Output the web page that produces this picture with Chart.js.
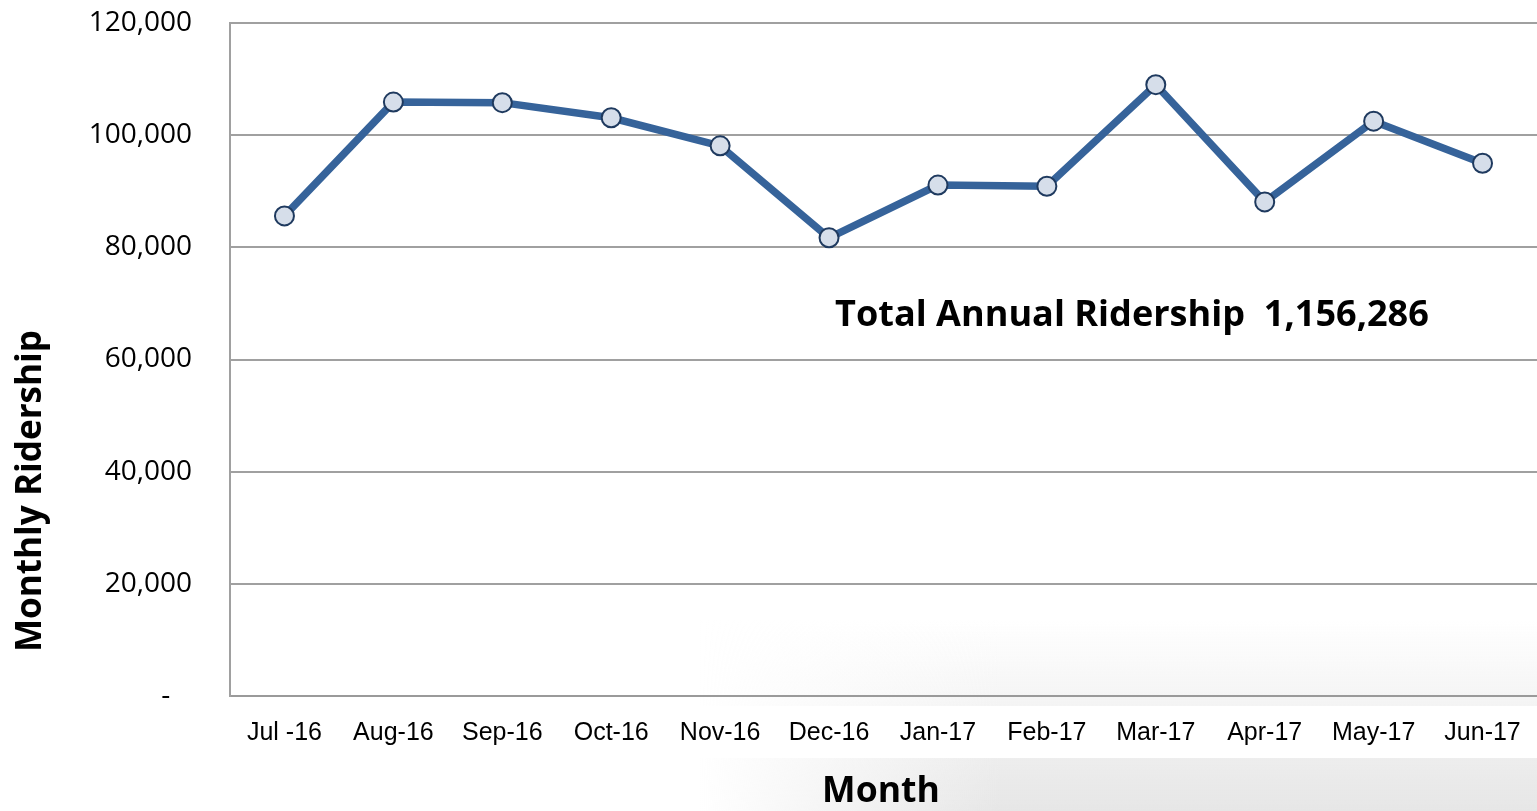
<!DOCTYPE html>
<html>
<head>
<meta charset="utf-8">
<script src="https://cdn.jsdelivr.net/npm/chart.js@4/dist/chart.umd.min.js"></script>
<style>
html,body{margin:0;padding:0;background:#fff;}
#wrap{width:1537px;height:811px;position:relative;}
</style>
</head>
<body>
<div id="wrap"><canvas id="c" width="1537" height="811"></canvas></div>
<script>
const months = ['Jul -16','Aug-16','Sep-16','Oct-16','Nov-16','Dec-16','Jan-17','Feb-17','Mar-17','Apr-17','May-17','Jun-17'];
const ridership = [85600, 105900, 105800, 103100, 98100, 81700, 91100, 90900, 109000, 88100, 102500, 95000];
const yTicks = [0, 20000, 40000, 60000, 80000, 100000, 120000];
const totalLabel = 'Total Annual Ridership  1,156,286';
const xTitle = 'Month';
const yTitle = 'Monthly Ridership';

const bgPlugin = {
  id: 'bg',
  beforeDraw(chart) {
    const ctx = chart.ctx;
    ctx.save();
    const g = ctx.createLinearGradient(0, 620, 0, 811);
    g.addColorStop(0, 'rgba(200,200,200,0)');
    g.addColorStop(1, 'rgba(200,200,200,0.45)');
    ctx.fillStyle = g;
    ctx.fillRect(700, 620, 837, 191);
    const h = ctx.createLinearGradient(700, 0, 1000, 0);
    h.addColorStop(0, 'rgba(255,255,255,1)');
    h.addColorStop(1, 'rgba(255,255,255,0)');
    ctx.fillStyle = h;
    ctx.fillRect(700, 620, 300, 191);
    ctx.fillStyle = '#ffffff';
    ctx.fillRect(232, 706, 1305, 52);
    ctx.restore();
  },
  afterDraw(chart) {
    const ctx = chart.ctx;
    ctx.save();
    ctx.fillStyle = '#000';
    ctx.textBaseline = 'middle';
    ctx.textAlign = 'left';
    let fs = 36;
    ctx.font = 'bold ' + fs + 'px "Open Sans"';
    let w = ctx.measureText(totalLabel).width;
    fs = fs * 595 / w;
    ctx.font = 'bold ' + fs.toFixed(1) + 'px "Open Sans"';
    ctx.fillText(totalLabel, 835, 316);
    ctx.textAlign = 'center';
    let f2 = 36;
    ctx.font = 'bold ' + f2 + 'px "Open Sans"';
    w = ctx.measureText(xTitle).width;
    f2 = f2 * 118 / w;
    ctx.font = 'bold ' + f2.toFixed(1) + 'px "Open Sans"';
    ctx.fillText(xTitle, 881, 792);
    let f3 = 32;
    ctx.font = 'bold ' + f3 + 'px "Open Sans"';
    w = ctx.measureText(yTitle).width;
    f3 = f3 * 322 / w;
    ctx.font = 'bold ' + f3.toFixed(1) + 'px "Open Sans"';
    ctx.translate(31, 491);
    ctx.rotate(-Math.PI / 2);
    ctx.fillText(yTitle, 0, 0);
    ctx.restore();
  }
};

new Chart(document.getElementById('c'), {
  type: 'line',
  data: {
    labels: months,
    datasets: [{
      data: ridership,
      borderColor: '#36639a',
      borderWidth: 7.5,
      pointRadius: 9.5,
      pointHoverRadius: 9.5,
      pointBackgroundColor: '#d6deea',
      pointBorderColor: '#1f3a5f',
      pointBorderWidth: 2,
      tension: 0,
      clip: false
    }]
  },
  options: {
    responsive: false,
    animation: false,
    devicePixelRatio: 1,
    layout: { autoPadding: false, padding: { top: 23, right: 0, left: 0, bottom: 0 } },
    plugins: { legend: { display: false }, tooltip: { enabled: false }, title: { display: false } },
    scales: {
      x: {
        offset: true,
        grid: { display: false, drawTicks: false },
        border: { display: true, color: '#9a9a9a', width: 2 },
        ticks: {
          color: '#000',
          font: { family: '"Liberation Sans", Arial', size: 25 },
          padding: 22,
          maxRotation: 0,
          autoSkip: false
        },
        afterFit(s) { s.height = 115; s.paddingLeft = 0; s.paddingRight = 0; }
      },
      y: {
        min: 0,
        max: 120000,
        afterBuildTicks(s) { s.ticks = yTicks.map(v => ({ value: v })); },
        grid: { color: '#a0a0a0', lineWidth: 2, drawTicks: false },
        border: { display: true, color: '#a0a0a0', width: 2 },
        ticks: {
          color: '#000',
          font: { family: '"Open Sans"', size: 28 },
          padding: 38,
          callback(v) { return v === 0 ? '-   ' : v.toLocaleString('en-US'); }
        },
        afterFit(s) { s.width = 230; s.paddingTop = 0; s.paddingBottom = 0; }
      }
    }
  },
  plugins: [bgPlugin]
});
</script>
</body>
</html>
